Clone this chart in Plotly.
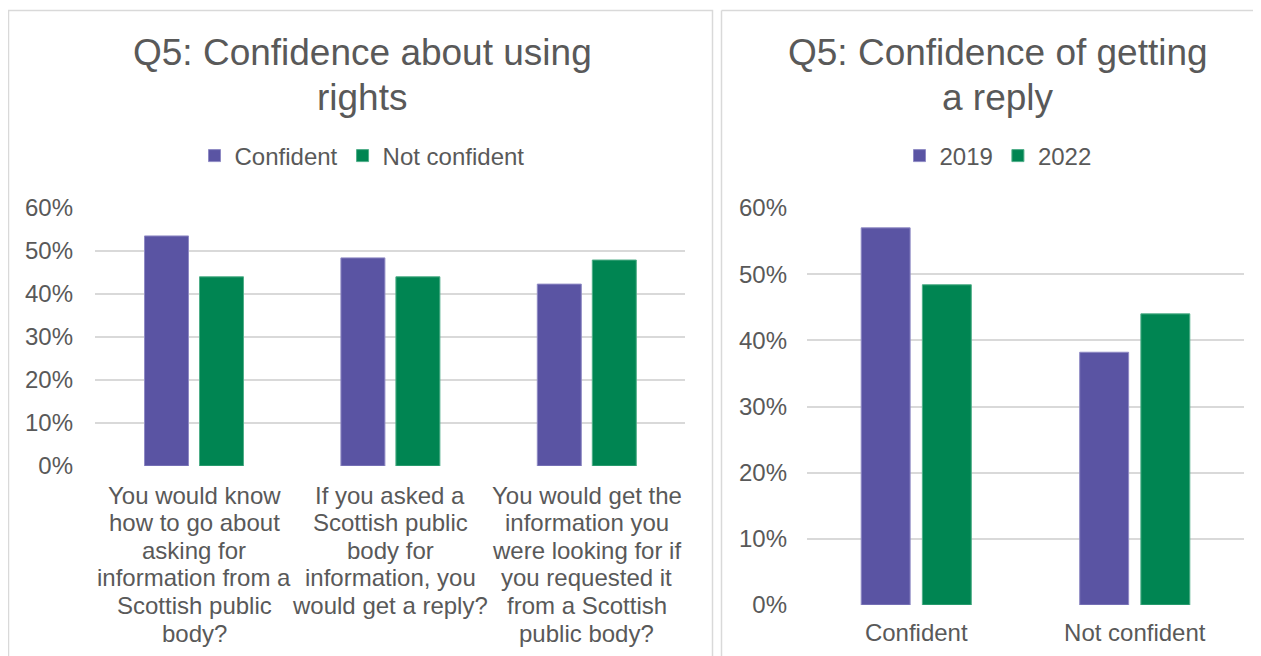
import plotly.graph_objects as go

# Left chart: Q5 confidence about using rights
questions = [
    "You would know how to go about asking for information from a Scottish public body?",
    "If you asked a Scottish public body for information, you would get a reply?",
    "You would get the information you were looking for if you requested it from a Scottish public body?",
]
question_lines = [
    ["You would know", "how to go about", "asking for", "information from a", "Scottish public", "body?"],
    ["If you asked a", "Scottish public", "body for", "information, you", "would get a reply?"],
    ["You would get the", "information you", "were looking for if", "you requested it", "from a Scottish", "public body?"],
]
confident = [0.535, 0.484, 0.423]
not_confident = [0.440, 0.440, 0.479]

# Right chart: Q5 confidence of getting a reply
reply_cats = ["Confident", "Not confident"]
y2019 = [0.570, 0.382]
y2022 = [0.484, 0.440]

left_title = ["Q5: Confidence about using", "rights"]
right_title = ["Q5: Confidence of getting", "a reply"]
pct_ticks = [0, 0.1, 0.2, 0.3, 0.4, 0.5, 0.6]
pct_labels = ["0%", "10%", "20%", "30%", "40%", "50%", "60%"]

PURPLE = "#5a54a3"
GREEN = "#008552"
TEXT = "#595959"
GRID = "#d9d9d9"
W, H = 1261, 656
FONT = "Liberation Sans, Arial, sans-serif"
OFF = 8  # page margin around the plot


def px_x(x):
    return (x - OFF) / W


def px_y(y):
    return 1 - (y - OFF) / H


fig = go.Figure()

fig.add_trace(go.Bar(x=questions, y=confident, name="Confident", marker_color=PURPLE,
                     marker_line=dict(color="#8f8ac4", width=1), xaxis="x", yaxis="y", legend="legend"))
fig.add_trace(go.Bar(x=questions, y=not_confident, name="Not confident", marker_color=GREEN,
                     marker_line=dict(color="#4fae88", width=1), xaxis="x", yaxis="y", legend="legend"))
fig.add_trace(go.Bar(x=reply_cats, y=y2019, name="2019", marker_color=PURPLE,
                     marker_line=dict(color="#8f8ac4", width=1), xaxis="x2", yaxis="y2", legend="legend2"))
fig.add_trace(go.Bar(x=reply_cats, y=y2022, name="2022", marker_color=GREEN,
                     marker_line=dict(color="#4fae88", width=1), xaxis="x2", yaxis="y2", legend="legend2"))

yaxis_common = dict(range=[0, 0.6], tickvals=pct_ticks, ticktext=pct_labels, showgrid=True,
                    gridcolor=GRID, gridwidth=2, zeroline=False, showline=False, ticks="",
                    tickfont=dict(size=24, color=TEXT, family=FONT), fixedrange=True,
                    automargin=False)

annotations = []
for i, line in enumerate(left_title):
    annotations.append(dict(text=line, x=px_x(362), y=px_y(52 + 45 * i), xref="paper", yref="paper",
                            showarrow=False, font=dict(size=37, color=TEXT, family=FONT),
                            xanchor="center", yanchor="middle"))
for i, line in enumerate(right_title):
    annotations.append(dict(text=line, x=px_x(998), y=px_y(52 + 45 * i), xref="paper", yref="paper",
                            showarrow=False, font=dict(size=37, color=TEXT, family=FONT),
                            xanchor="center", yanchor="middle"))
# category labels of the left chart, one line at a time for tight spacing
for q, lines in zip(questions, question_lines):
    for j, line in enumerate(lines):
        annotations.append(dict(text=line, x=q, y=0, xref="x", yref="y", showarrow=False,
                                yshift=-(29 + 27.6 * j), xanchor="center", yanchor="middle",
                                font=dict(size=24, color=TEXT, family=FONT)))

border = dict(color=GRID, width=1.5)
fig.update_layout(
    width=W, height=H,
    margin=dict(l=0, r=0, t=0, b=0, autoexpand=False),
    paper_bgcolor="white", plot_bgcolor="white",
    barmode="group", bargap=0.44, bargroupgap=0.2,
    font=dict(family=FONT, color=TEXT),
    xaxis=dict(domain=[px_x(95), px_x(685)], showticklabels=False, showgrid=False,
               zeroline=False, showline=False, ticks="", fixedrange=True, automargin=False),
    yaxis=dict(domain=[px_y(466), px_y(208)], anchor="x", ticklabelstandoff=21, **yaxis_common),
    xaxis2=dict(domain=[px_x(807), px_x(1244)], anchor="y2", showgrid=False, zeroline=False,
                showline=False, ticks="", tickfont=dict(size=24, color=TEXT, family=FONT),
                ticklabelstandoff=11, fixedrange=True, automargin=False),
    yaxis2=dict(domain=[px_y(605), px_y(208)], anchor="x2", ticklabelstandoff=19, **yaxis_common),
    legend=dict(orientation="h", x=px_x(362), y=px_y(156), xanchor="center", yanchor="middle",
                font=dict(size=24, color=TEXT, family=FONT), itemwidth=30, bgcolor="rgba(0,0,0,0)"),
    legend2=dict(orientation="h", x=px_x(998), y=px_y(156), xanchor="center", yanchor="middle",
                 font=dict(size=24, color=TEXT, family=FONT), itemwidth=30, bgcolor="rgba(0,0,0,0)"),
    annotations=annotations,
    shapes=[
        # left panel frame
        dict(type="rect", xref="paper", yref="paper", x0=px_x(8.5), x1=px_x(712.5), y0=px_y(670),
             y1=px_y(10.5), line=border, layer="below"),
        # right panel frame runs off the right edge
        dict(type="line", xref="paper", yref="paper", x0=px_x(721.5), x1=1.0, y0=px_y(10.5),
             y1=px_y(10.5), line=border, layer="below"),
        dict(type="line", xref="paper", yref="paper", x0=px_x(721.5), x1=px_x(721.5), y0=px_y(670),
             y1=px_y(10.5), line=border, layer="below"),
    ],
    showlegend=True,
)

fig.write_html("out.html")
